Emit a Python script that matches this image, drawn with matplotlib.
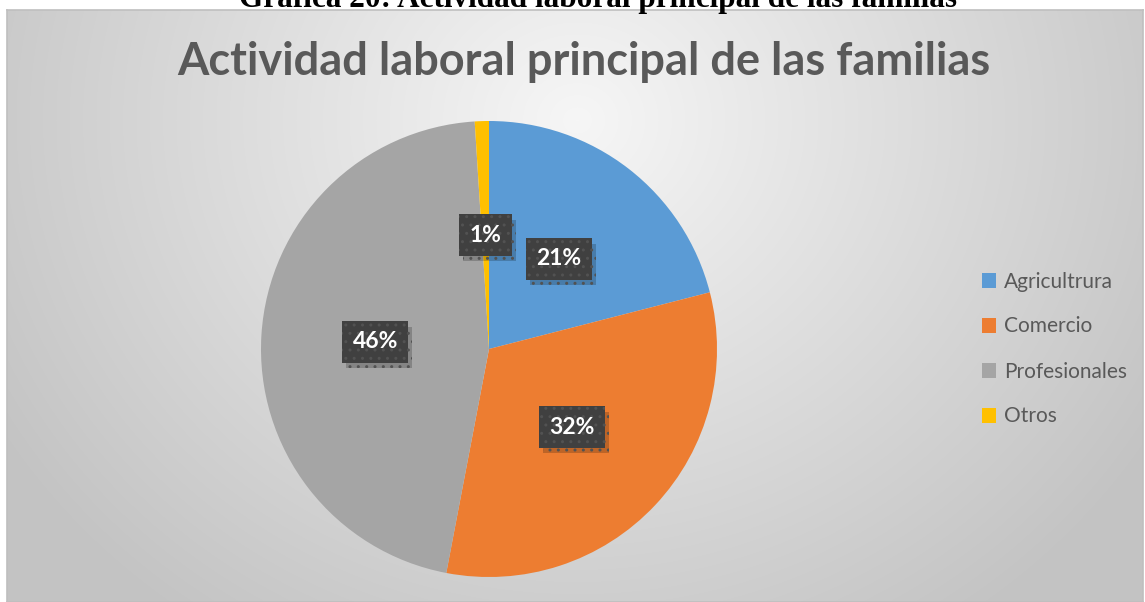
import matplotlib.pyplot as plt
import matplotlib.patheffects as pe
from matplotlib.patches import Patch
import numpy as np

# Datos
categorias = ["Agricultrura", "Comercio", "Profesionales", "Otros"]
valores = [21, 32, 46, 1]
colores = ["#5B9BD5", "#ED7D31", "#A5A5A5", "#FFC000"]

titulo = "Actividad laboral principal de las familias"
leyenda_grafica = "Gráfica 20: Actividad laboral principal de las familias"

plt.rcParams['font.family'] = ['Lato', 'DejaVu Sans']

W, H = 1145, 602
fig = plt.figure(figsize=(W / 100, H / 100), dpi=100)
fig.patch.set_facecolor("white")

# Fondo con gradiente radial
x0, x1, ytop = 7, 1143, 10
bg = fig.add_axes([x0 / W, 0, (x1 - x0) / W, (H - ytop) / H])
yy, xx = np.mgrid[0:H - ytop, 0:x1 - x0]
d = np.hypot(xx - 570, (yy - 110) * 1.1) / 680
d = np.clip(d, 0, 1)
shade = 0.965 - 0.2 * d
bg.imshow(np.dstack([shade] * 3), aspect='auto', extent=[0, 1, 0, 1], origin='upper')
bg.set_xticks([])
bg.set_yticks([])
for s in bg.spines.values():
    s.set_color("#bfbfbf")
    s.set_linewidth(1.2)

# Texto de la gráfica (cortado arriba, como en el original)
fig.text(598 / W, 1 - 7 / H, leyenda_grafica, ha='center', va='baseline',
         fontsize=22.5, fontweight='bold', family='Liberation Serif', color='black')

# Título
fig.text(584 / W, 1 - 62 / H, titulo, ha='center', va='center',
         fontsize=32.5, fontweight='bold', color='#595959')

# Pastel
cx, cy, r = 489, 349, 228
ax = fig.add_axes([(cx - r) / W, (H - cy - r) / H, 2 * r / W, 2 * r / H])
wedges, texts, autotexts = ax.pie(valores, colors=colores, startangle=90, counterclock=False,
                                  autopct='%1.0f%%', pctdistance=0.5,
                                  wedgeprops=dict(linewidth=0))
ax.set_xlim(-1, 1)
ax.set_ylim(-1, 1)
ax.set_aspect('equal')
for t in autotexts:
    t.set_color('white')
    t.set_fontsize(16.5)
    t.set_fontweight('bold')
    t.set_bbox(dict(boxstyle='square,pad=0.45', facecolor='#404040',
                    edgecolor='#525252', linewidth=0, hatch='..'))
    t.get_bbox_patch().set_path_effects([
        pe.SimplePatchShadow(offset=(3, -4), shadow_rgbFace='black', alpha=0.2), pe.Normal()])

# Leyenda
handles = [Patch(facecolor=c, edgecolor='none') for c in colores]
fig.legend(handles, categorias, loc='center left', bbox_to_anchor=(963 / W, 1 - 349 / H),
           frameon=False, fontsize=15, handlelength=0.7, handleheight=0.7,
           handletextpad=0.35, labelspacing=1.2, labelcolor='#595959')

plt.savefig("out.png", dpi=100)
